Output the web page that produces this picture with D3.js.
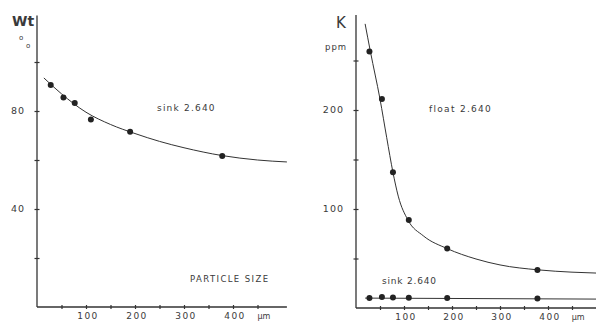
<!DOCTYPE html>
<html>
<head>
<meta charset="utf-8">
<script src="https://cdn.jsdelivr.net/npm/d3@7"></script>
<style>
  body { margin: 0; background: #fff; }
  svg text { font-family: "DejaVu Sans", sans-serif; fill: #3a3a3a; }
</style>
</head>
<body>
<svg id="chart" width="597" height="325"></svg>
<script>
// particle size (um) of the measured fractions
var sizes = [28, 54, 77, 110, 190, 378];

// left: weight % sink 2.640
var wtSink = [90.6, 85.5, 83.3, 76.5, 71.5, 61.6];
var wtCurveX = [14, 50, 100, 150, 200, 250, 300, 378, 450, 510];
var wtCurveY = [93.5, 87, 79.5, 74.5, 70.8, 67.6, 65, 61.8, 60, 59.2];

// right: K ppm
var kFloat = [259, 211, 137, 89, 60, 38.5];
var kSink = [10, 11, 10.5, 10.3, 10, 9.5];
var kCurveX = [19, 30, 50, 64, 77, 88, 108, 140, 190, 250, 300, 380, 450, 500];
var kCurveY = [287, 259, 211, 172, 137, 113, 89, 73, 60, 49.5, 43.5, 38.5, 36.2, 35.3];
var kSinkLineX = [19, 500];
var kSinkLineY = [10, 9];

var xTickLabels = [100, 200, 300, 400];
var wtTickLabels = [40, 80];
var kTickLabels = [100, 200];

var svg = d3.select("#chart");
var ink = "#333";

var xL = d3.scaleLinear().domain([0, 500]).range([37, 282]);
var yL = d3.scaleLinear().domain([0, 120]).range([307, 13]);
var xR = d3.scaleLinear().domain([0, 500]).range([356, 596]);
var yR = d3.scaleLinear().domain([0, 300]).range([308, 11]);

function crossTicks(g) {
    g.select(".domain").attr("stroke", ink).attr("stroke-width", 1.3);
    g.selectAll(".tick line").attr("stroke", ink).attr("stroke-width", 1.2);
}

function drawPanel(x, y, xMax, yMax, yStep, yLabels) {
    // x axis
    var xa = svg.append("g")
        .attr("transform", `translate(0,${y(0)})`)
        .call(d3.axisBottom(x)
            .tickValues(d3.range(50, 451, 50))
            .tickSize(0)
            .tickSizeOuter(0)
            .tickFormat(""));
    xa.select(".domain").attr("d", `M${x(0)},0H${x(xMax)}`);
    xa.selectAll(".tick line").attr("y1", -2).attr("y2", 2);
    crossTicks(xa);

    xa.selectAll(".xl")
        .data(xTickLabels)
        .enter()
        .append("text")
        .attr("x", d => x(d) + 2)
        .attr("y", 12)
        .attr("text-anchor", "middle")
        .style("font-size", "9px")
        .style("letter-spacing", "1.5px")
        .text(d => d);
    xa.append("text")
        .attr("x", x(463))
        .attr("y", 12)
        .style("font-size", "8px")
        .text("μm");

    // y axis
    var ya = svg.append("g")
        .attr("transform", `translate(${x(0)},0)`)
        .call(d3.axisLeft(y)
            .tickValues(d3.range(yStep, yMax, yStep))
            .tickSize(0)
            .tickSizeOuter(0)
            .tickFormat(""));
    ya.select(".domain").attr("d", `M0,${y(0)}V${y(yMax)}`);
    ya.selectAll(".tick line").attr("x1", -2.5).attr("x2", 2.5);
    crossTicks(ya);

    ya.selectAll(".yl")
        .data(yLabels)
        .enter()
        .append("text")
        .attr("x", -12)
        .attr("y", d => y(d) + 3)
        .attr("text-anchor", "end")
        .style("font-size", "9.5px")
        .style("letter-spacing", "1px")
        .text(d => d);
}

drawPanel(xL, yL, 510, 119, 20, wtTickLabels);
drawPanel(xR, yR, 500, 296, 50, kTickLabels);

var line = (x, y) => d3.line()
    .x(d => x(d[0]))
    .y(d => y(d[1]))
    .curve(d3.curveMonotoneX);

function curve(x, y, xs, ys) {
    svg.append("path")
        .datum(xs.map((d, i) => [d, ys[i]]))
        .attr("d", line(x, y))
        .attr("fill", "none")
        .attr("stroke", ink)
        .attr("stroke-width", 1);
}

function dots(x, y, vals) {
    svg.append("g")
        .selectAll("circle")
        .data(vals)
        .enter()
        .append("circle")
        .attr("cx", (d, i) => x(sizes[i]))
        .attr("cy", d => y(d))
        .attr("r", 3)
        .attr("fill", "#222");
}

curve(xL, yL, wtCurveX, wtCurveY);
dots(xL, yL, wtSink);

curve(xR, yR, kCurveX, kCurveY);
dots(xR, yR, kFloat);
curve(xR, yR, kSinkLineX, kSinkLineY);
dots(xR, yR, kSink);

// labels
function label(txt, x, y, size, opts) {
    var t = svg.append("text")
        .attr("x", x)
        .attr("y", y)
        .style("font-size", size + "px")
        .text(txt);
    if (opts && opts.bold) t.style("font-weight", "bold");
    if (opts && opts.ls) t.style("letter-spacing", opts.ls + "px");
    if (opts && opts.anchor) t.attr("text-anchor", opts.anchor);
    return t;
}

label("Wt", 12, 26, 14, { bold: true });
label("o", 19, 40, 7);
label("o", 26, 48, 7);
label("sink 2.640", 157, 111, 9, { ls: 1.2 });
label("PARTICLE SIZE", 190, 282, 8.5, { ls: 1.4 });

label("K", 336, 28, 15);
label("ppm", 325, 50, 8.5, { ls: 1 });
label("float 2.640", 429, 112, 9, { ls: 1.3 });
label("sink 2.640", 382, 284, 9, { ls: 0.8 });
</script>
</body>
</html>
